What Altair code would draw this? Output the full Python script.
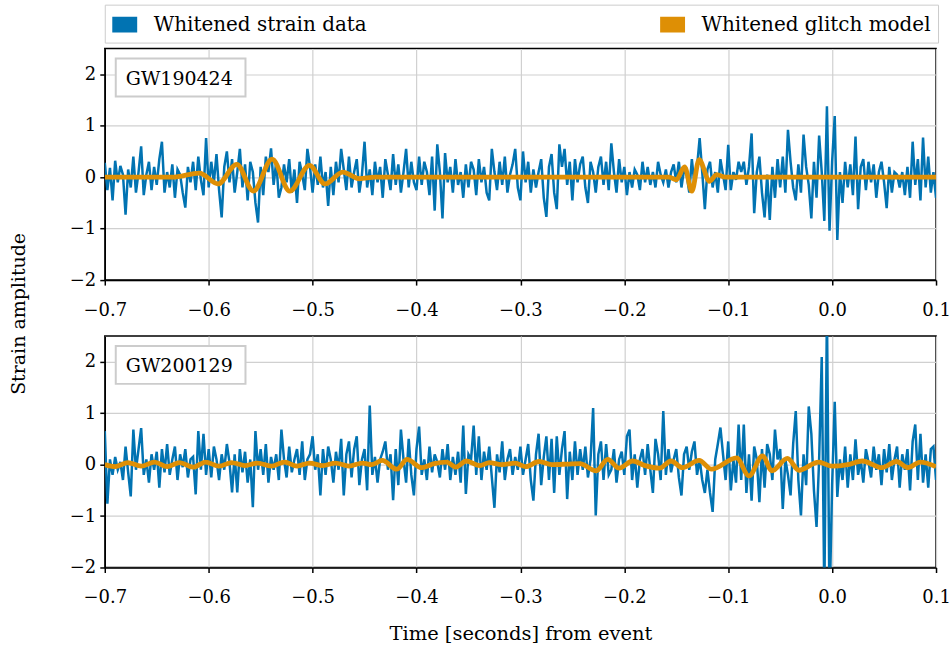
import altair as alt
import pandas as pd

# Sampling grid of the whitened strain series (seconds relative to the event)
T0 = -0.7
DT = 0.0025

events = ["GW190424", "GW200129"]
series_names = ["Whitened strain data", "Whitened glitch model"]
series_colors = ["#0173B2", "#DE8F05"]
x_ticks = [-0.7, -0.6, -0.5, -0.4, -0.3, -0.2, -0.1, 0.0, 0.1]
y_ticks = [-2, -1, 0, 1, 2]

strain_190424 = [
    0.28, -0.25, 0.18, -0.45, 0.32, -0.1, 0.22, 0.05, -0.73, 0.15, -0.2, 0.4, -0.3, 0.1, 0.6, -0.35, 0.05, 0.3, -0.25, 0.2,
    -0.15, 0.35, 0.69, -0.3, 0.1, -0.2, 0.25, -0.4, 0.15, 0.05, -0.3, -0.59, 0.2, -0.1, 0.3, -0.25, 0.4, -0.05, -0.35, 0.76,
    -0.2, 0.3, -0.1, 0.45, -0.25, -0.78, 0.2, 0.5, -0.1, 0.35, -0.3, 0.1, 0.55, -0.2, 0.25, -0.45, 0.3, 0.1, -0.5, -0.88,
    0.2, -0.35, 0.4, 0.1, 0.56, -0.15, 0.3, -0.4, -0.2, 0.25, -0.1, 0.35, -0.3, 0.15, -0.5, 0.3, 0.05, -0.25, 0.55, 0.2,
    -0.3, 0.25, -0.15, 0.4, -0.2, 0.1, -0.56, 0.2, -0.35, 0.3, -0.1, 0.55, 0.15, -0.25, 0.4, -0.2, 0.1, 0.35, -0.3, 0.05,
    0.69, -0.2, 0.15, -0.35, 0.3, -0.1, 0.2, -0.4, 0.35, 0.05, -0.25, 0.45, -0.15, 0.25, -0.3, 0.1, 0.55, -0.2, 0.3, -0.1,
    -0.25, 0.4, -0.15, 0.3, 0.1, -0.35, 0.4, -0.65, 0.64, 0.1, -0.8, 0.47, -0.1, 0.2, -0.3, 0.35, -0.15, 0.1, -0.4, 0.25,
    -0.2, 0.3, 0.15, -0.35, 0.35, -0.1, 0.2, -0.3, -0.45, 0.55, 0.1, -0.25, 0.3, -0.15, 0.4, -0.3, 0.05, 0.25, 0.55, -0.2,
    -0.45, 0.5, -0.1, 0.3, -0.3, 0.15, -0.2, 0.1, 0.35, -0.4, -0.77, 0.2, 0.45, -0.3, -0.62, 0.64, 0.2, 0.55, -0.15, 0.3,
    -0.45, 0.35, -0.1, 0.25, 0.4, -0.2, -0.5, 0.3, 0.1, -0.3, 0.2, 0.4, -0.15, 0.3, -0.25, 0.66, 0.1, -0.3, 0.35, -0.1,
    0.2, -0.35, 0.1, -0.2, 0.15, 0.05, -0.25, 0.3, -0.1, 0.2, -0.15, 0.1, -0.2, 0.3, 0.05, -0.1, 0.15, -0.2, 0.1, 0.25,
    -0.1, 0.3, -0.2, 0.15, 0.05, -0.3, 0.35, -0.15, 0.2, 0.76, 0.1, -0.62, 0.15, 0.3, -0.2, 0.1, -0.3, 0.35, 0.05, -0.25,
    0.63, -0.25, 0.1, -0.05, 0.3, 0.1, 0.3, -0.15, 0.2, 0.85, -0.7, 0.1, 0.4, -0.3, -0.78, 0.05, -0.83, 0.2, -0.4, 0.35,
    -0.2, 0.4, -0.3, 0.92, 0.3, -0.2, -0.45, 0.25, -0.3, 0.83, 0.2, -0.15, -0.8, 0.3, -0.4, 0.81, 0.1, -0.85, 1.38, -1.04,
    0.3, 1.19, -1.22, 0.1, -0.5, 0.3, -0.2, 0.25, -0.35, 0.79, -0.62, 0.2, 0.35, -0.25, 0.3, -0.1, 0.25, -0.4, 0.1, 0.3,
    -0.1, -0.6, 0.2, -0.3, 0.1, 0.05, -0.2, 0.1, -0.35, 0.2, -0.4, 0.69, -0.15, 0.35, -0.45, 0.77, -0.2, 0.4, -0.3, 0.1, -0.4,
]

strain_200129 = [
    0.65, -0.76, 0.1, -0.2, 0.15, -0.1, 0.05, -0.3, 0.35, -0.15, -0.62, 0.68, -0.1, 0.3, 0.71, -0.2, 0.1, -0.35, 0.2, -0.1,
    0.25, -0.45, 0.3, -0.15, 0.4, -0.2, 0.1, 0.35, -0.3, 0.2, -0.05, 0.3, -0.25, 0.1, 0.15, -0.58, 0.65, -0.1, 0.6, -0.2,
    0.3, -0.25, 0.35, 0.1, -0.3, 0.2, -0.1, 0.4, 0.05, -0.54, 0.2, -0.54, 0.3, -0.15, 0.25, -0.35, 0.1, -0.83, 0.65, -0.1,
    0.3, -0.2, 0.4, -0.35, 0.15, -0.1, 0.2, -0.3, 0.68, 0.1, -0.25, 0.35, -0.15, 0.1, 0.3, -0.2, 0.45, -0.3, 0.1, 0.2,
    0.55, -0.1, 0.2, -0.6, 0.3, -0.2, 0.35, 0.1, -0.35, 0.25, -0.1, 0.5, -0.6, 0.2, 0.45, -0.25, 0.3, 0.55, -0.4, 0.1,
    0.3, -0.5, 1.15, -0.2, 0.15, -0.35, 0.1, 0.25, 0.45, -0.1, 0.2, -0.69, 0.3, -0.4, 0.68, 0.1, -0.35, 0.5, -0.2, -0.6,
    0.3, 0.74, -0.2, 0.1, -0.3, 0.35, -0.15, 0.2, 0.05, -0.25, 0.3, -0.1, 0.4, -0.3, 0.15, -0.2, 0.25, -0.35, 0.76, -0.57,
    0.2, 0.1, 0.76, -0.2, 0.55, -0.3, 0.25, -0.1, 0.35, -0.25, -0.84, 0.2, -0.15, 0.45, -0.3, 0.1, 0.3, -0.2, 0.15, -0.1,
    0.35, -0.2, 0.1, 0.4, -0.3, -0.7, 0.2, 0.6, -0.4, 0.15, 0.55, -0.3, 0.5, -0.55, 0.55, -0.2, 0.3, 0.65, -0.67, 0.25,
    -0.3, 0.45, -0.2, 0.3, -0.1, 0.35, -0.25, 0.1, 1.1, -0.99, 0.2, 0.45, -0.3, 0.4, -0.2, -0.1, 0.3, -0.35, 0.1, 0.25,
    -0.2, 0.55, 0.68, -0.3, 0.2, -0.45, 0.1, 0.3, -0.2, 0.4, -0.1, -0.55, 0.5, 0.2, -0.3, 1.04, -0.2, 0.3, -0.15, 0.1,
    0.3, -0.25, -0.6, 0.2, 0.35, -0.1, 0.25, 0.45, -0.2, 0.1, -0.3, -0.55, -0.1, -0.55, -0.92, 0.1, 0.4, 0.72, 0.2, -0.3,
    0.45, -0.5, 0.1, -0.35, 0.78, -0.3, 0.78, -0.55, 0.2, -0.7, 0.35, 0.1, -0.73, 0.3, -0.45, 0.4, 0.2, -0.3, 0.68, 0.1,
    0.3, -0.86, 0.1, -0.2, -0.6, 0.4, 1.04, -0.3, -0.99, 0.2, -0.4, 1.13, 0.6, -0.5, -1.21, 0.1, 2.09, -2.6, 3.0, -2.8,
    -0.4, 1.22, -0.63, 0.1, -0.3, 0.35, -0.45, 0.2, -0.3, 0.49, -0.2, 0.1, -0.35, 0.3, 0.05, -0.25, 0.35, -0.1, 0.2, -0.4,
    0.3, -0.15, 0.4, -0.3, 0.1, 0.35, -0.45, 0.2, -0.1, 0.3, -0.5, 0.45, 0.78, -0.3, 0.6, -0.35, 0.2, -0.45, 0.3, 0.35, -0.3,
]

# Glitch model: extrema of the fitted wavelets (smoothed by the line interpolation)
glitch_190424_t = [-0.7, -0.635, -0.609, -0.591, -0.573, -0.557, -0.539, -0.522, -0.503, -0.488, -0.471,
                   -0.455, -0.44, -0.157, -0.150, -0.142, -0.135, -0.128, -0.118, -0.111, -0.103, 0.1]
glitch_190424_v = [0.0, 0.0, 0.08, -0.13, 0.25, -0.27, 0.35, -0.27, 0.23, -0.13, 0.1,
                   -0.03, 0.0, 0.0, -0.05, 0.2, -0.27, 0.34, -0.08, 0.05, 0.0, 0.0]

glitch_200129_t = [-0.7, -0.69, -0.678, -0.665, -0.652, -0.64, -0.628, -0.615, -0.603, -0.59, -0.578,
                   -0.565, -0.553, -0.54, -0.527, -0.515, -0.503, -0.49, -0.478, -0.465, -0.452, -0.443,
                   -0.433, -0.419, -0.409, -0.395, -0.383, -0.371, -0.362, -0.352, -0.339, -0.330, -0.318,
                   -0.305, -0.295, -0.282, -0.27, -0.255, -0.243, -0.227, -0.216, -0.205, -0.192, -0.18,
                   -0.166, -0.155, -0.144, -0.128, -0.116, -0.092, -0.080, -0.067, -0.058, -0.043, -0.032,
                   -0.013, 0.0, 0.015, 0.029, 0.048, 0.062, 0.073, 0.085, 0.1]
glitch_200129_v = [0.0, -0.04, 0.04, -0.03, 0.05, -0.04, 0.04, -0.05, 0.05, -0.03, 0.04,
                   -0.02, 0.03, -0.03, 0.05, -0.03, 0.03, -0.02, 0.03, -0.03, 0.03, 0.0,
                   0.08, -0.09, 0.10, -0.06, 0.02, 0.05, -0.05, 0.07, -0.02, 0.04, 0.0,
                   0.03, -0.04, 0.06, 0.0, 0.01, 0.02, -0.12, 0.10, -0.07, 0.07, -0.02,
                   -0.07, 0.07, -0.06, 0.08, -0.09, 0.13, -0.22, 0.17, -0.12, 0.12, -0.11,
                   0.05, -0.03, 0.0, 0.07, -0.06, 0.06, -0.06, 0.05, -0.04]

SERIF = "DejaVu Serif"
PANEL_W = 833
PANEL_H = 232

# Solid legend swatch drawn as a stack of thin strokes (unit path, scaled by the symbol size)
SWATCH = "".join(
    "M-1.04,{0}H1.04".format(y)
    for y in ("-0.583", "-0.437", "-0.292", "-0.146", "0", "0.146", "0.292", "0.437", "0.583")
)


def panel(event, strain, gt, gv, x_title):
    times = [round(T0 + i * DT, 4) for i in range(len(strain))]
    data = pd.DataFrame({"t": times, "v": strain, "series": series_names[0]})
    model = pd.DataFrame({"t": gt, "v": gv, "series": series_names[1]})

    x = alt.X(
        "t:Q",
        scale=alt.Scale(domain=[-0.7, 0.1], nice=False, zero=False),
        axis=alt.Axis(
            values=x_ticks,
            labelExpr="replace(format(datum.value, '.1f'), '-', '\u2212')",
            labelFlush=False,
            labelPadding=16,
            title=x_title,
        ),
    )
    y = alt.Y(
        "v:Q",
        scale=alt.Scale(domain=[-2, 2.5], nice=False, zero=False),
        axis=alt.Axis(
            values=y_ticks,
            labelExpr="replace(datum.label, '-', '\u2212')",
            labelFlush=False,
            labelPadding=4,
            title=None,
        ),
    )
    color = alt.Color(
        "series:N",
        scale=alt.Scale(domain=series_names, range=series_colors),
        legend=alt.Legend(
            title=None,
            orient="none",
            legendX=0,
            legendY=-44,
            direction="horizontal",
            columns=2,
            columnPadding=289,
            symbolType=SWATCH,
            symbolSize=576,
            symbolStrokeWidth=2,
            labelFont=SERIF,
            labelFontSize=20,
            labelColor="black",
            labelOffset=16,
            labelLimit=400,
            padding=7,
            strokeColor="#cccccc",
            fillColor="white",
        ),
    )

    strain_line = alt.Chart(data).mark_line(strokeWidth=2.5, clip=True).encode(x=x, y=y, color=color)
    model_line = alt.Chart(model).mark_line(strokeWidth=4.8, interpolate="monotone", clip=True).encode(
        x=x, y=y, color=color
    )

    tag = pd.DataFrame({"event": [event]})
    box = alt.Chart(tag).mark_rect(fill="white", stroke="#cccccc", strokeWidth=2).encode(
        x=alt.value(11), x2=alt.value(141), y=alt.value(10), y2=alt.value(48)
    )
    label = alt.Chart(tag).mark_text(
        align="left", baseline="middle", font=SERIF, fontSize=19, color="black"
    ).encode(x=alt.value(21), y=alt.value(30), text="event:N")

    return alt.layer(strain_line, model_line, box, label).properties(width=PANEL_W, height=PANEL_H)


top = panel(events[0], strain_190424, glitch_190424_t, glitch_190424_v, None)
bottom = panel(events[1], strain_200129, glitch_200129_t, glitch_200129_v, "Time [seconds] from event")

chart = (
    alt.vconcat(top, bottom, spacing=15)
    .properties(
        title=alt.TitleParams(
            "Strain amplitude",
            orient="left",
            anchor="middle",
            font=SERIF,
            fontSize=19,
            fontWeight="normal",
            color="black",
            offset=40,
            dx=10,
        )
    )
    .configure(padding={"left": 9, "top": 3, "right": 0, "bottom": 2})
    .configure_view(stroke="black", strokeWidth=1.5)
    .configure_axis(
        grid=True,
        gridColor="#d0d0d0",
        gridWidth=1.2,
        domainColor="black",
        domainWidth=1.5,
        tickColor="black",
        tickSize=5,
        tickWidth=1.5,
        labelFont=SERIF,
        labelFontSize=18,
        labelColor="black",
        titleFont=SERIF,
        titleFontSize=19.5,
        titleFontWeight="normal",
        titleColor="black",
        titlePadding=18,
    )
)

chart.save("out.html", embed_options={"renderer": "svg", "actions": False})
